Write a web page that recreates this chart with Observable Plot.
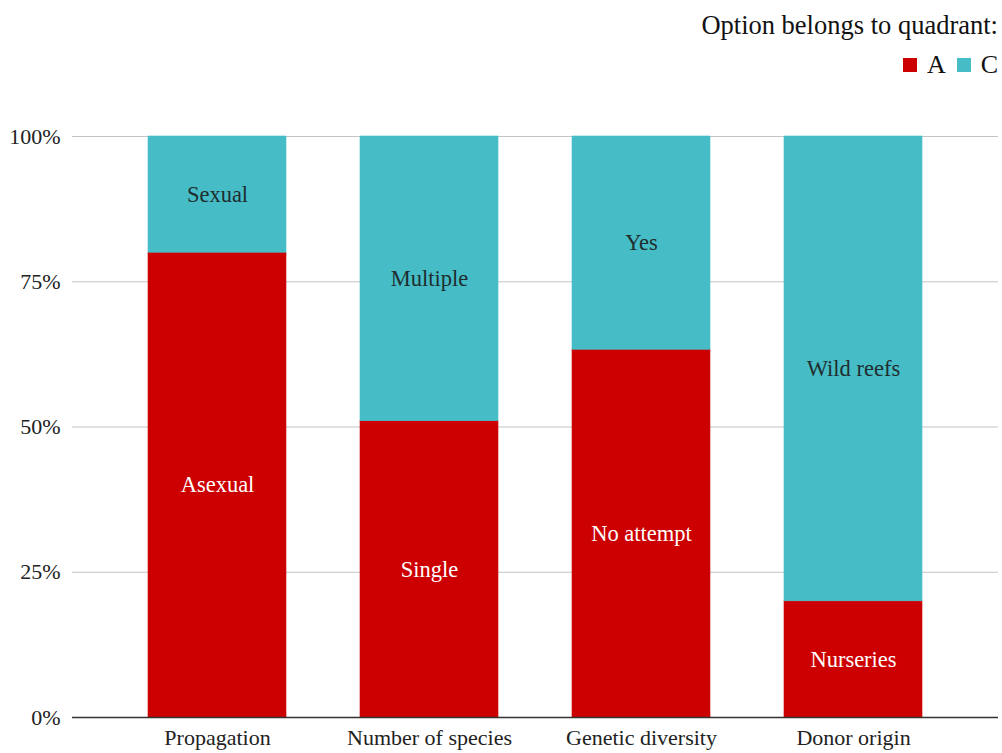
<!DOCTYPE html>
<html>
<head>
<meta charset="utf-8">
<script src="https://cdn.jsdelivr.net/npm/d3@7"></script>
<script src="https://cdn.jsdelivr.net/npm/@observablehq/plot@0.6"></script>
<style>
  html, body { margin: 0; padding: 0; background: #fff; }
  body { width: 1002px; height: 753px; overflow: hidden; font-family: "Liberation Serif", "Times New Roman", serif; }
  #legend { height: 100px; position: relative; color: #111; }
  #legend .title { position: absolute; right: 4px; top: 9px; font-size: 26.5px; line-height: 32px; white-space: nowrap; }
  #legend .row { position: absolute; right: 4px; top: 49px; font-size: 26px; line-height: 32px; display: flex; align-items: center; }
  #legend .sw { display: inline-block; width: 14px; height: 14px; margin-right: 10px; }
  #legend .item { display: flex; align-items: center; margin-left: 11px; }
  svg { display: block; }
</style>
</head>
<body>
<div id="legend"></div>
<div id="chart"></div>
<script>
const categories = ["Propagation", "Number of species", "Genetic diversity", "Donor origin"];
const quadrants = ["A", "C"];
const colors = ["#cc0000", "#46bdc6"];
const valuesA = [80, 51, 63.3, 20];
const valuesC = [20, 49, 36.7, 80];
const labelsA = ["Asexual", "Single", "No attempt", "Nurseries"];
const labelsC = ["Sexual", "Multiple", "Yes", "Wild reefs"];
const yTicks = [0, 25, 50, 75, 100];
const legendTitle = "Option belongs to quadrant:";

const data = [];
categories.forEach((c, i) => {
  data.push({category: c, quadrant: "A", value: valuesA[i], label: labelsA[i]});
  data.push({category: c, quadrant: "C", value: valuesC[i], label: labelsC[i]});
});

// legend
const leg = document.getElementById("legend");
leg.innerHTML = `<div class="title">${legendTitle}</div>` +
  `<div class="row">` + quadrants.map((q, i) =>
    `<span class="item"><span class="sw" style="background:${colors[i]}"></span>${q}</span>`).join("") +
  `</div>`;

const chart = Plot.plot({
  width: 1002,
  height: 653,
  marginLeft: 72,
  marginRight: 4,
  marginTop: 36,
  marginBottom: 36,
  style: {fontFamily: "'Liberation Serif', 'Times New Roman', serif", fontSize: "22px", color: "#222", background: "#fff"},
  x: {domain: categories, padding: 0.351, label: null},
  y: {domain: [0, 100], label: null},
  color: {domain: quadrants, range: colors},
  marks: [
    Plot.gridY(yTicks, {stroke: "#c4c4c4", strokeOpacity: 1, strokeWidth: 1.2}),
    Plot.barY(data, Plot.stackY({x: "category", y: "value", fill: "quadrant", stroke: "quadrant", strokeWidth: 0.6, order: quadrants})),
    Plot.text(data, Plot.stackY({x: "category", y: "value", text: "label", order: quadrants,
      fill: d => d.quadrant === "A" ? "#ffffff" : "#1f2d2f", fontSize: 22.5})),
    Plot.ruleY([0], {stroke: "#333", strokeWidth: 1.5}),
    Plot.axisY({ticks: yTicks, tickFormat: d => d + "%", tickSize: 0, tickPadding: 12, label: null, fontSize: 22}),
    Plot.axisX({tickSize: 0, tickPadding: 12, label: null, fontSize: 22})
  ]
});
document.getElementById("chart").appendChild(chart);
</script>
</body>
</html>
